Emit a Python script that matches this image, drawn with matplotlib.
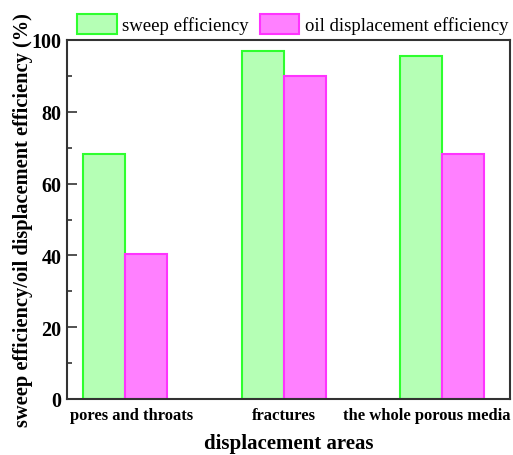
import matplotlib
matplotlib.use("Agg")
import matplotlib.pyplot as plt
import matplotlib.transforms as mtransforms
from matplotlib.ticker import MultipleLocator
import numpy as np

categories = ["pores and throats", "fractures", "the whole porous media"]
sweep = [68.2, 97.0, 95.6]
oil_disp = [40.4, 90.0, 68.3]

plt.rcParams['font.family'] = ['Liberation Serif', 'DejaVu Serif']

fig = plt.figure(figsize=(5.13, 4.56), dpi=100)
ax = fig.add_axes([67/513, 1 - 400/456, (510 - 67)/513, (400 - 41)/456])

x = np.arange(len(categories))
w = 0.265
ax.bar(x - w/2, sweep, w, facecolor='#B5FFB5', edgecolor='#2EFF2E',
       linewidth=1.5, label='sweep efficiency')
ax.bar(x + w/2, oil_disp, w, facecolor='#FF80FF', edgecolor='#FF33FF',
       linewidth=1.5, label='oil displacement efficiency')

ax.set_xlim(-0.366, 2.429)
ax.set_ylim(0, 100)
ax.yaxis.set_major_locator(MultipleLocator(20))
ax.yaxis.set_minor_locator(MultipleLocator(10))
ax.tick_params(axis='y', which='major', direction='in', length=7, width=1.2,
               labelsize=14.5, colors='#333333', labelcolor='black', pad=4)
ax.tick_params(axis='y', which='minor', direction='in', length=3.5, width=1.2,
               colors='#333333')
ax.tick_params(axis='x', which='both', length=0, labelsize=12, pad=6)
ax.set_xticks(x)
ax.set_xticklabels(categories)
for lab in ax.get_yticklabels() + ax.get_xticklabels():
    lab.set_fontweight('bold')

# nudge the category labels so the last one stays inside the figure
shifts = [7, 0, -15]
for lab, dx in zip(ax.get_xticklabels(), shifts):
    lab.set_transform(lab.get_transform() +
                      mtransforms.ScaledTranslation(dx/100, 0, fig.dpi_scale_trans))

for s in ax.spines.values():
    s.set_linewidth(1.5)
    s.set_color('#333333')

ax.set_ylabel('sweep efficiency/oil displacement efficiency (%)',
              fontsize=14.7, fontweight='bold', labelpad=-1)
ax.set_xlabel('displacement areas', fontsize=15, fontweight='bold', labelpad=7)

ax.legend(loc='lower center', bbox_to_anchor=(0.51, 0.995), ncol=2, frameon=False,
          fontsize=13.5, handlelength=2.1, handleheight=1.2, columnspacing=0.6,
          handletextpad=0.3, borderaxespad=0.0)

fig.savefig('out.png', dpi=100)
